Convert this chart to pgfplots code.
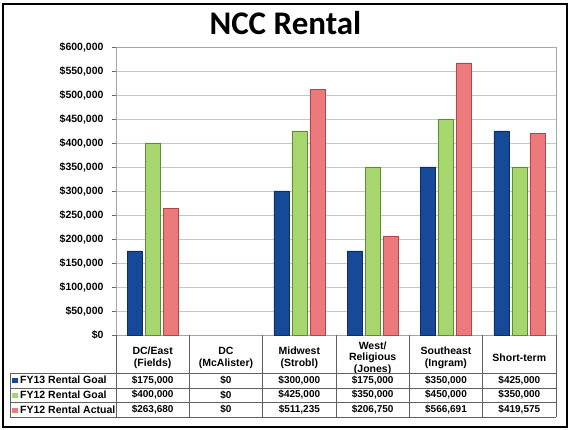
\documentclass[border=0pt]{standalone}
\usepackage{pgfplots}
\pgfplotsset{compat=1.18}
\usepackage{fontspec}
\setmainfont{Liberation Sans}
\newfontfamily\calibri{Carlito}
\definecolor{cblue}{RGB}{22,74,152}
\definecolor{cbluedk}{RGB}{12,45,100}
\definecolor{cgreen}{RGB}{168,214,110}
\definecolor{cgreendk}{RGB}{96,140,50}
\definecolor{cred}{RGB}{236,122,124}
\definecolor{creddk}{RGB}{176,70,74}
\begin{document}
\begin{tikzpicture}
\path[use as bounding box] (-116pt,-95pt) rectangle (457pt,335pt);
\draw[line width=1.6pt] (-113pt,-92pt) rectangle (451pt,331pt);
\begin{axis}[
  at={(0pt,0pt)}, anchor=south west,
  scale only axis, width=440pt, height=288pt,
  ybar=3pt, bar width=15pt,
  xmin=-0.5, xmax=5.5, ymin=0, ymax=600000,
  xtick={0,1,2,3,4,5},
  xticklabels={{DC/East\\(Fields)},{DC\\(McAlister)},{Midwest\\(Strobl)},{West/\\Religious\\(Jones)},{Southeast\\(Ingram)},{Short-term}},
  xticklabel style={anchor=center, yshift=-19pt, align=center, font=\fontsize{10.5}{11.5}\selectfont\bfseries},
  xtick style={draw=none},
  ytick={0,50000,...,600000},
  scaled y ticks=false,
  /pgf/number format/assume math mode=true,
  yticklabel={\$\pgfmathprintnumber[fixed,precision=0,1000 sep={,}]{\tick}},
  yticklabel style={font=\fontsize{10.5}{12}\selectfont\bfseries, xshift=-5pt},
  ytick pos=left, tick align=outside, major tick length=4pt,
  ytick style={gray!80!black},
  ymajorgrids, grid style={gray!45, line width=0.6pt},
  axis line style={gray!70},
  clip=false,
  y filter/.expression={y==0 ? nan : y},
  title={\calibri\bfseries NCC Rental},
  title style={at={(axis description cs:0.385,1.024)}, anchor=base, font=\fontsize{33}{36}\selectfont},
  legend style={at={(axis description cs:-0.2364,-0.1319)}, anchor=north west, draw=none, fill=none,
    font=\fontsize{10.5}{12}\selectfont\bfseries, inner sep=0pt, row sep=0pt,
    nodes={inner sep=2.5pt, text height=7.5pt, text depth=2.5pt, minimum height=14.67pt}},
  legend cell align=left,
  legend image code/.code={\fill[#1, draw=none] (0pt,-2.8pt) rectangle (5.5pt,2.8pt);},
]
\addplot[fill=cblue, draw=cbluedk] coordinates {(0,175000) (1,0) (2,300000) (3,175000) (4,350000) (5,425000)};
\addplot[fill=cgreen, draw=cgreendk] coordinates {(0,400000) (1,0) (2,425000) (3,350000) (4,450000) (5,350000)};
\addplot[fill=cred, draw=creddk] coordinates {(0,263680) (1,0) (2,511235) (3,206750) (4,566691) (5,419575)};
\legend{FY13 Rental Goal, FY12 Rental Goal, FY12 Rental Actual}
\end{axis}
% data table grid
\begin{scope}[gray!75!black, line width=0.6pt]
\foreach \k in {0,...,6} { \draw (\k*73.333pt,0pt) -- (\k*73.333pt,-82pt); }
\draw (-106pt,-38pt) -- (440pt,-38pt);
\draw (-106pt,-53pt) -- (440pt,-53pt);
\draw (-106pt,-67pt) -- (440pt,-67pt);
\draw (-106pt,-82pt) -- (440pt,-82pt);
\draw (-106pt,-38pt) -- (-106pt,-82pt);
\end{scope}
\begin{scope}[font=\fontsize{10}{11}\selectfont\bfseries]
\foreach \k/\a/\b/\c in {0/{\$175,000}/{\$400,000}/{\$263,680}, 1/{\$0}/{\$0}/{\$0}, 2/{\$300,000}/{\$425,000}/{\$511,235}, 3/{\$175,000}/{\$350,000}/{\$206,750}, 4/{\$350,000}/{\$450,000}/{\$566,691}, 5/{\$425,000}/{\$350,000}/{\$419,575}} {
  \node at ({(\k+0.5)*73.333pt},-45.5pt) {\a};
  \node at ({(\k+0.5)*73.333pt},-60pt) {\b};
  \node at ({(\k+0.5)*73.333pt},-74.5pt) {\c};
}
\end{scope}
\end{tikzpicture}
\end{document}
